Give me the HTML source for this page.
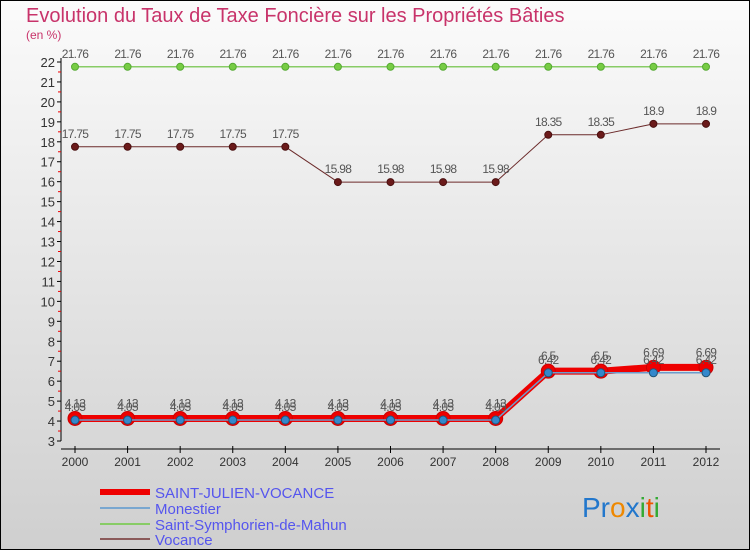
<!DOCTYPE html>
<html><head><meta charset="utf-8"><style>
body{margin:0;}
svg{display:block;font-family:"Liberation Sans",sans-serif;}
</style></head><body>
<svg id="c" width="750" height="550" viewBox="0 0 750 550">
<defs><linearGradient id="bg" x1="0" y1="0" x2="0" y2="1"><stop offset="0" stop-color="#fbfbfb"/><stop offset="1" stop-color="#cfcfcf"/></linearGradient></defs>
<rect x="0.5" y="0.5" width="749" height="549" fill="url(#bg)" stroke="#000"/>
<text x="26" y="22" font-size="20" fill="#c8336a">Evolution du Taux de Taxe Foncière sur les Propriétés Bâties</text>
<text x="26" y="39" font-size="12" fill="#c8336a">(en %)</text>
<g id="axes"></g><g id="series"></g><g id="labels"></g>
<g>
<line x1="100" y1="492" x2="150" y2="492" stroke="#ee0000" stroke-width="6"/>
<text x="155" y="498" font-size="15" fill="#5555ee">SAINT-JULIEN-VOCANCE</text>
<line x1="100" y1="508" x2="150" y2="508" stroke="#79a7d0" stroke-width="2"/>
<text x="155" y="514" font-size="15" fill="#5555ee">Monestier</text>
<line x1="100" y1="524" x2="150" y2="524" stroke="#88cc66" stroke-width="2"/>
<text x="155" y="530" font-size="15" fill="#5555ee">Saint-Symphorien-de-Mahun</text>
<line x1="100" y1="539" x2="150" y2="539" stroke="#8b5a5a" stroke-width="2"/>
<text x="155" y="545" font-size="15" fill="#5555ee">Vocance</text>
</g>
<text x="582" y="517" font-size="28"><tspan fill="#2277cc">Pr</tspan><tspan fill="#ee8800">o</tspan><tspan fill="#2277cc">x</tspan><tspan fill="#33aa33">i</tspan><tspan fill="#ee5500">t</tspan><tspan fill="#33aa33">i</tspan></text>
</svg>
<script>
const years=[2000,2001,2002,2003,2004,2005,2006,2007,2008,2009,2010,2011,2012];
const sjv=[4.13,4.13,4.13,4.13,4.13,4.13,4.13,4.13,4.13,6.5,6.5,6.69,6.69];
const monestier=[4.05,4.05,4.05,4.05,4.05,4.05,4.05,4.05,4.05,6.42,6.42,6.42,6.42];
const stsym=[21.76,21.76,21.76,21.76,21.76,21.76,21.76,21.76,21.76,21.76,21.76,21.76,21.76];
const vocance=[17.75,17.75,17.75,17.75,17.75,15.98,15.98,15.98,15.98,18.35,18.35,18.9,18.9];
const yTicks=[3,4,5,6,7,8,9,10,11,12,13,14,15,16,17,18,19,20,21,22];
const NS="http://www.w3.org/2000/svg";
const X=i=>75+i*(706-75)/(years.length-1);
const Y=v=>441-(v-3)*(441-62)/19;
function mk(t,a,p){const e=document.createElementNS(NS,t);for(const k in a)e.setAttribute(k,a[k]);p.appendChild(e);return e;}
const ax=document.getElementById('axes'),sr=document.getElementById('series'),lb=document.getElementById('labels');
const yl=mk('line',{x1:61,y1:58,x2:61,y2:441,stroke:'#000'},ax);


yTicks.forEach(v=>{
 mk('line',{x1:57,y1:Y(v),x2:61,y2:Y(v),stroke:'#000'},ax);
 if(v<22)mk('line',{x1:58,y1:Y(v+0.5),x2:61,y2:Y(v+0.5),stroke:'#e00'},ax);
 const t=mk('text',{x:55,y:Y(v)+5,'text-anchor':'end','font-size':13,fill:'#333'},ax);t.textContent=v;
 
 
});
const xl=mk('line',{x1:61,y1:449,x2:720,y2:449,stroke:'#000'},ax);


years.forEach((y,i)=>{
 mk('line',{x1:X(i),y1:446,x2:X(i),y2:453,stroke:'#000'},ax);
 const t=mk('text',{x:X(i),y:466,'text-anchor':'middle','font-size':12,fill:'#333'},ax);t.textContent=y;
 
 
});
function series(vals,name,color,w,dotR,dotFill,dotStroke,lblOff){
 const g=mk('g',{},sr);
 
 
 mk('polyline',{points:vals.map((v,i)=>X(i)+','+Y(v)).join(' '),fill:'none',stroke:color,'stroke-width':w,'stroke-linejoin':'round'},g);
 vals.forEach((v,i)=>{
  const c=mk('circle',{cx:X(i),cy:Y(v),r:dotR,fill:dotFill,stroke:dotStroke,'stroke-width':1},g);
  
  
  const t=mk('text',{x:X(i),y:Y(v)-lblOff,'text-anchor':'middle','font-size':12,fill:'#555','letter-spacing':'-0.7'},lb);
  t.textContent=String(v);
  
  
 });
}
series(stsym,'saint-symphorien','#88cc66',1.5,3.5,'#77cc44','#55aa33',9);
series(vocance,'vocance','#6b2a2a',1,3.5,'#6b1a1a','#4a1010',9);
series(sjv,'saint-julien-vocance','#ee0000',7,7,'#ee0000','#cc0000',11);
series(monestier,'monestier','#6c9ccc',1.5,4,'#3388cc','#225577',9);
</script>
</body></html>
